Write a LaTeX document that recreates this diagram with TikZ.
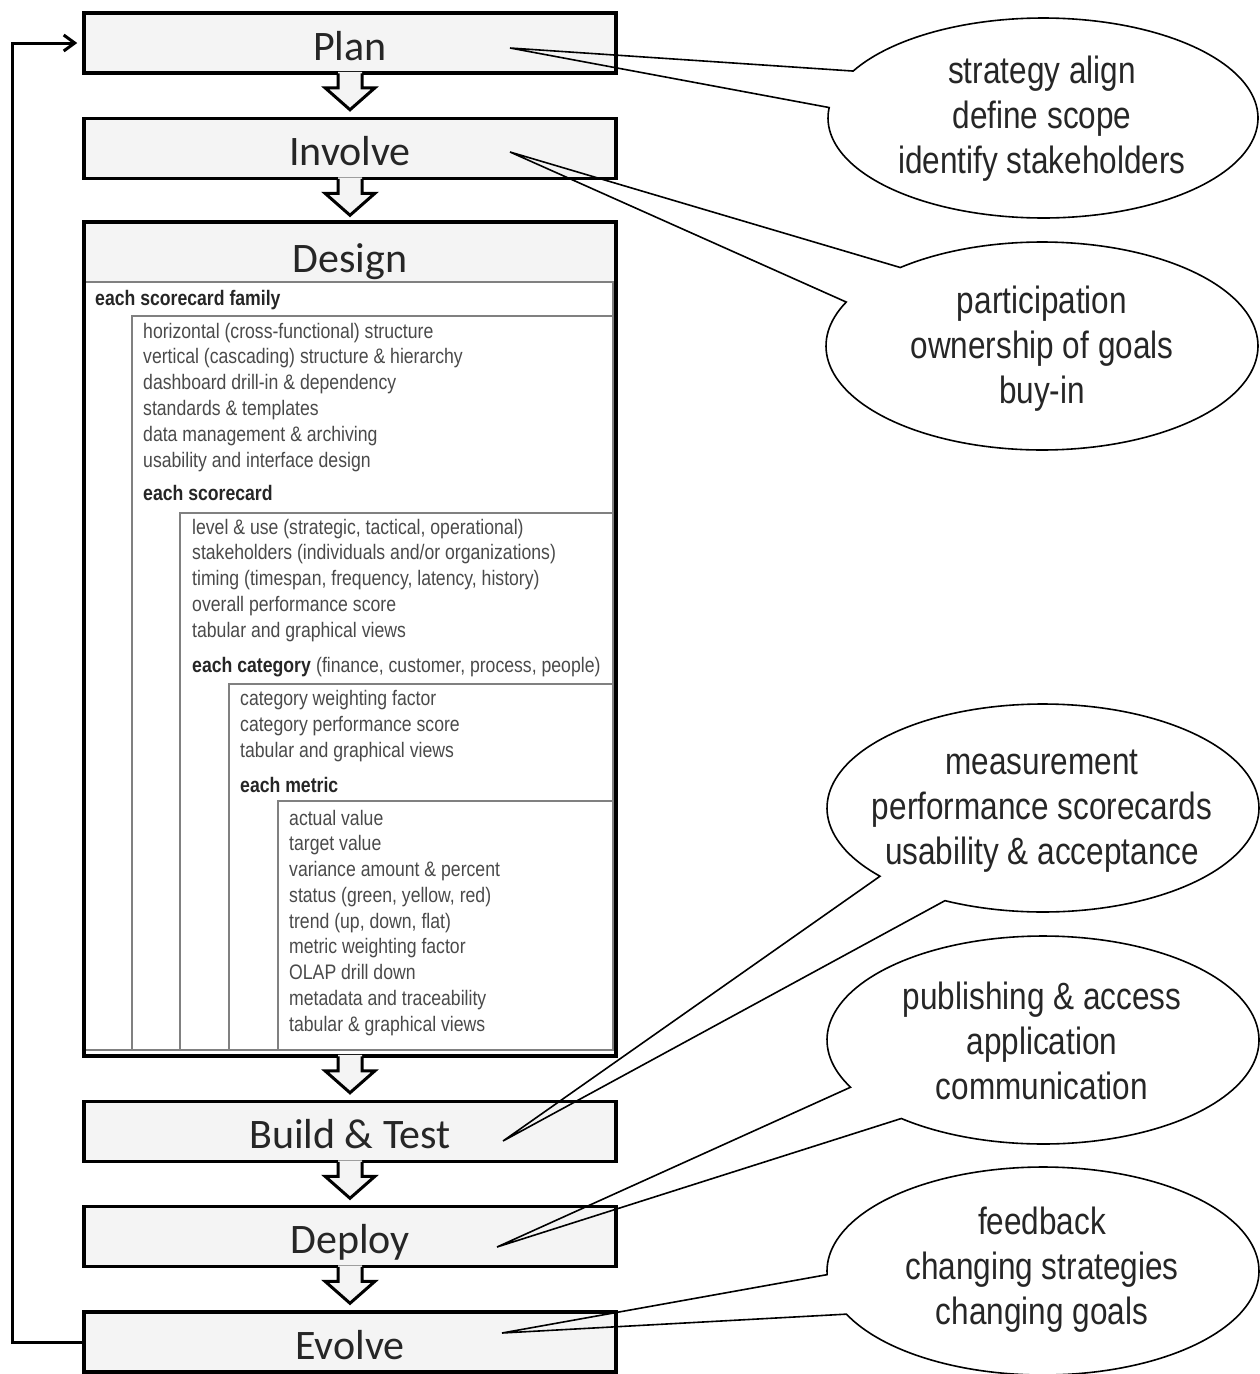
\documentclass[tikz,border=0pt]{standalone}
\usepackage{fontspec}
\usetikzlibrary{arrows.meta,calc}
\newfontfamily\stagefont{Carlito}
\newfontfamily\notefont[FakeStretch=0.83]{Liberation Sans}
\newfontfamily\listfont[FakeStretch=0.84]{Liberation Sans}
\definecolor{boxfill}{HTML}{F4F4F4}
\definecolor{gridline}{HTML}{808080}
\definecolor{listtext}{HTML}{4A4A4A}
\definecolor{headtext}{HTML}{262626}
% block arrow hanging below a stage box
\newcommand\stagearrow[1]{%
  \fill[boxfill] ($(#1.south)+(-12,-3)$) -- ++(0,16) -- ++(-13,0) -- ++(25,22)
    -- ++(25,-22) -- ++(-13,0) -- ++(0,-16) -- cycle;
  \draw[flowarrow] ($(#1.south)+(-12,-1.5)$) -- ++(0,14.5) -- ++(-13,0) -- ++(25,22)
    -- ++(25,-22) -- ++(-13,0) -- ++(0,-14.5);
}
\begin{document}
\begin{tikzpicture}[x=1pt,y=-1pt,
  stage/.style={draw=black, line width=3.5pt, fill=boxfill, minimum width=532pt,
    minimum height=60pt, inner sep=0pt, text height=40pt, text depth=6pt,
    text=headtext, font=\stagefont\fontsize{42}{42}\selectfont},
  flowarrow/.style={draw=black, line width=3pt, line join=miter},
  loopline/.style={draw=black, line width=3pt, line join=miter,
    -{Straight Barb[length=11pt,width=16pt,line width=3pt]}, shorten >=5pt},
  note/.style={align=center, text=headtext, inner sep=0pt,
    font=\notefont\fontsize{38}{45}\selectfont},
  callout/.style={draw=black, line width=1.6pt, line join=miter},
  listitem/.style={anchor=base west, inner sep=0pt, text=listtext,
    font=\listfont\fontsize{21}{21}\selectfont},
  listhead/.style={anchor=base west, inner sep=0pt, text=headtext,
    font=\listfont\bfseries\fontsize{21}{21}\selectfont},
  grid/.style={draw=gridline, line width=1.5pt}
]
\fill[white] (0,0) rectangle (1260,1374);
\useasboundingbox (0,0) rectangle (1260,1374);

% ---- process stages ----
\node[stage] (plan)    at (350,43)     {Plan};
\node[stage] (involve) at (350,148.5)  {Involve};
\node[stage, fill=white, minimum height=834pt] (design) at (350,639) {};
\node[stage] (build)   at (350,1131.5) {Build \& Test};
\node[stage] (deploy)  at (350,1236.5) {Deploy};
\node[stage] (evolve)  at (350,1342)   {Evolve};

% ---- design box contents ----
\fill[boxfill] (86,224) rectangle (614,282);
\node[anchor=base, inner sep=0pt, text=headtext,
  font=\stagefont\fontsize{42}{42}\selectfont] (designtitle) at (350,272) {Design};
\draw[grid] (86,282) -- (614,282);
\draw[grid] (613,282) -- (613,1050);
\draw[grid] (86,1050) -- (614,1050);
\draw[grid] (132,1050) -- (132,316) -- (614,316);
\draw[grid] (180,1050) -- (180,513) -- (614,513);
\draw[grid] (229,1050) -- (229,684) -- (614,684);
\draw[grid] (278,1050) -- (278,801) -- (614,801);

\node[listhead] (famhead) at (95,305) {each scorecard family};
\foreach \txt [count=\i from 0] in {%
  {horizontal (cross-functional) structure},
  {vertical (cascading) structure \& hierarchy},
  {dashboard drill-in \& dependency},
  {standards \& templates},
  {data management \& archiving},
  {usability and interface design}}
  \node[listitem] (fam\i) at (143,{338+25.8*\i}) {\txt};

\node[listhead] (cardhead) at (143,500) {each scorecard};
\foreach \txt [count=\i from 0] in {%
  {level \& use (strategic, tactical, operational)},
  {stakeholders (individuals and/or organizations)},
  {timing (timespan, frequency, latency, history)},
  {overall performance score},
  {tabular and graphical views}}
  \node[listitem] (card\i) at (192,{534+25.9*\i}) {\txt};

\node[listhead] (cathead) at (192,672) {each category};
\node[listitem, anchor=base west] (catnote) at (cathead.base east)
  {\ (finance, customer, process, people)};
\foreach \txt [count=\i from 0] in {%
  {category weighting factor},
  {category performance score},
  {tabular and graphical views}}
  \node[listitem] (cat\i) at (240,{705+26*\i}) {\txt};

\node[listhead] (methead) at (240,792) {each metric};
\foreach \txt [count=\i from 0] in {%
  {actual value},
  {target value},
  {variance amount \& percent},
  {status (green, yellow, red)},
  {trend (up, down, flat)},
  {metric weighting factor},
  {OLAP drill down},
  {metadata and traceability},
  {tabular \& graphical views}}
  \node[listitem] (met\i) at (289,{825+25.75*\i}) {\txt};

% ---- flow between stages ----
\stagearrow{plan}
\stagearrow{involve}
\stagearrow{design}
\stagearrow{build}
\stagearrow{deploy}

% ---- feedback loop ----
\draw[loopline] (evolve.west) -- ++(-70,0) |- (plan.west);

% ---- callouts ----
\coordinate (plantip)    at ($(plan.center)+(160,5)$);
\coordinate (involvetip) at ($(involve.center)+(160,3.5)$);
\coordinate (buildtip)   at ($(build.center)+(153,9.5)$);
\coordinate (deploytip)  at ($(deploy.center)+(147,10.5)$);
\coordinate (evolvetip)  at ($(evolve.center)+(152,-9)$);

\draw[callout] plot[domain=208:546, samples=160, variable=\t]
  ({1043+215*cos(\t)},{118+100*sin(\t)}) -- (plantip) -- cycle;
\draw[callout] plot[domain=229:565, samples=160, variable=\t]
  ({1042+216*cos(\t)},{346+104*sin(\t)}) -- (involvetip) -- cycle;
\draw[callout] plot[domain=139:477, samples=160, variable=\t]
  ({1043+216*cos(\t)},{808+104*sin(\t)}) -- (buildtip) -- cycle;
\draw[callout] plot[domain=153:491, samples=160, variable=\t]
  ({1043+216*cos(\t)},{1040+104*sin(\t)}) -- (deploytip) -- cycle;
\draw[callout] plot[domain=178:515.5, samples=160, variable=\t]
  ({1043+216*cos(\t)},{1271+104*sin(\t)}) -- (evolvetip) -- cycle;

\node[note] (plannote)    at (1042,119)  {strategy align\\define scope\\identify stakeholders};
\node[note] (involvenote) at (1042,349)  {participation\\ownership of goals\\buy-in};
\node[note] (buildnote)   at (1042,811)  {measurement\\performance scorecards\\usability \& acceptance};
\node[note] (deploynote)  at (1042,1041) {publishing \& access\\application\\communication};
\node[note] (evolvenote)  at (1042,1270) {feedback\\changing strategies\\changing goals};
\end{tikzpicture}
\end{document}
